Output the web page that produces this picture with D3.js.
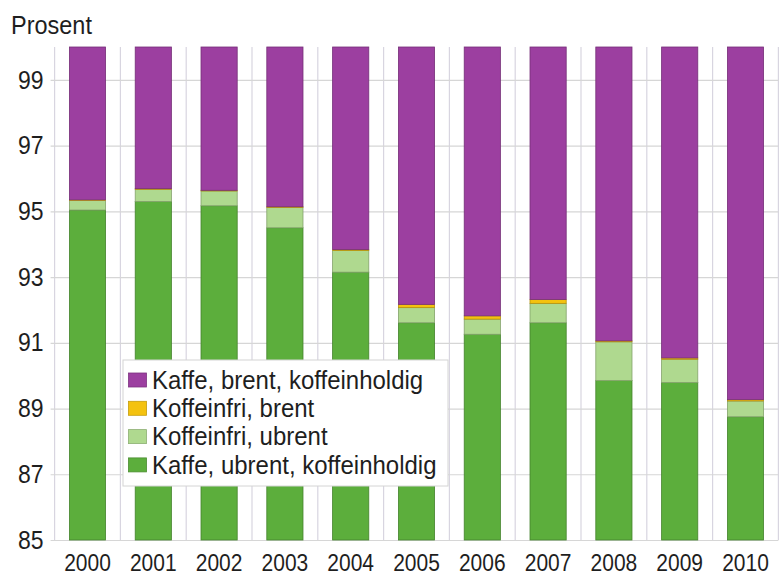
<!DOCTYPE html>
<html>
<head>
<meta charset="utf-8">
<script src="https://cdn.jsdelivr.net/npm/d3@7"></script>
<style>
  html, body { margin: 0; padding: 0; background: #fff; }
  svg { display: block; font-family: "Liberation Sans", Arial, sans-serif; }
</style>
</head>
<body>
<svg id="chart" width="782" height="576"></svg>
<script>
// Coffee consumption shares by type, 2000–2010 (per cent, axis cut at 85)
const years = ["2000","2001","2002","2003","2004","2005","2006","2007","2008","2009","2010"];
const ubrentKoffein  = [95.04, 95.30, 95.17, 94.50, 93.15, 91.61, 91.26, 91.61, 89.85, 89.79, 88.75];
const koffeinfriUbrent = [0.29, 0.37, 0.45, 0.62, 0.66, 0.46, 0.46, 0.59, 1.18, 0.71, 0.48];
const koffeinfriBrent  = [0.02, 0.02, 0.02, 0.02, 0.03, 0.10, 0.10, 0.12, 0.03, 0.04, 0.04];
const brentKoffein     = [4.65, 4.31, 4.36, 4.86, 6.16, 7.83, 8.18, 7.68, 8.94, 9.46, 10.73];
const yTicks = [85, 87, 89, 91, 93, 95, 97, 99];

const seriesKeys = ["ubrent", "friUbrent", "friBrent", "brent"];
const seriesLabels = {
  brent: "Kaffe, brent, koffeinholdig",
  friBrent: "Koffeinfri, brent",
  friUbrent: "Koffeinfri, ubrent",
  ubrent: "Kaffe, ubrent, koffeinholdig"
};
const colors = {
  ubrent: "#5cae3c",
  friUbrent: "#afd98f",
  friBrent: "#f4c20f",
  brent: "#9c3fa0"
};

const rows = years.map((yr, i) => ({
  year: yr,
  ubrent: ubrentKoffein[i],
  friUbrent: koffeinfriUbrent[i],
  friBrent: koffeinfriBrent[i],
  brent: brentKoffein[i]
}));

const svg = d3.select("#chart");
const plotL = 54.6, plotR = 778.4, plotT = 47, plotB = 540;
const textColor = "#1e1e1e";

// glyphs are drawn slightly taller than the regular face
function stretch(sel, k = 1.1) {
  sel.each(function () {
    const b = this.getBBox();
    const cy = b.y + b.height / 2;
    d3.select(this).attr("transform",
      `translate(0,${cy}) scale(1,${k}) translate(0,${-cy})`);
  });
}

const x = d3.scaleBand().domain(years).range([plotL, plotR])
  .paddingInner(0.45).paddingOuter(0.225);
const y = d3.scaleLinear().domain([85, 100]).range([plotB, plotT]).clamp(true);

// vertical separators between years
const grid = svg.append("g");
d3.range(years.length + 1).forEach(i => {
  const gx = plotL + i * x.step();
  grid.append("line")
    .attr("x1", gx).attr("x2", gx)
    .attr("y1", plotT).attr("y2", plotB)
    .attr("stroke", "#d8d5e0").attr("stroke-width", 1.2);
});

// horizontal gridlines via the axis
const yAxis = svg.append("g")
  .attr("transform", `translate(${plotL},0)`)
  .call(d3.axisLeft(y).tickValues(yTicks).tickSize(-(plotR - plotL)).tickPadding(11).tickFormat(d3.format("d")));
yAxis.select(".domain").remove();
yAxis.selectAll(".tick line").attr("stroke", "#d6d6d6").attr("stroke-width", 1.2).attr("x1", -4);
yAxis.selectAll(".tick text")
  .attr("font-size", 23).attr("fill", textColor)
  .attr("font-family", "'Liberation Sans', Arial, sans-serif")
  .call(stretch);

// stacked bars
const stacked = d3.stack().keys(seriesKeys)(rows);
const barG = svg.append("g");
stacked.forEach(layer => {
  const c = colors[layer.key];
  barG.append("g").selectAll("rect")
    .data(layer)
    .join("rect")
    .attr("x", d => x(d.data.year))
    .attr("width", x.bandwidth())
    .attr("y", d => y(d[1]))
    .attr("height", d => Math.max(0, y(d[0]) - y(d[1])))
    .attr("fill", c)
    .attr("stroke", d3.color(c).darker(0.8))
    .attr("stroke-width", 0.8);
});

// x axis labels
const xAxis = svg.append("g")
  .attr("transform", `translate(0,${plotB})`)
  .call(d3.axisBottom(x).tickSize(0).tickPadding(15));
xAxis.select(".domain").remove();
xAxis.selectAll(".tick text")
  .attr("font-size", 21).attr("fill", textColor)
  .attr("font-family", "'Liberation Sans', Arial, sans-serif")
  .call(stretch);

// unit label
svg.append("text")
  .attr("x", 11).attr("y", 33)
  .attr("font-size", 23.5).attr("fill", textColor)
  .text("Prosent")
  .call(stretch);

// legend
const legendOrder = ["brent", "friBrent", "friUbrent", "ubrent"];
const lg = svg.append("g");
lg.append("rect")
  .attr("x", 123).attr("y", 360).attr("width", 325).attr("height", 126)
  .attr("fill", "#fff").attr("stroke", "#d4d4d4").attr("stroke-width", 1);
legendOrder.forEach((k, i) => {
  const cy = 380 + i * 28.3;
  lg.append("rect")
    .attr("x", 128.5).attr("y", cy - 7).attr("width", 18).attr("height", 14)
    .attr("fill", colors[k])
    .attr("stroke", d3.color(colors[k]).darker(0.6)).attr("stroke-width", 0.8);
  lg.append("text")
    .attr("x", 152).attr("y", cy + 8)
    .attr("font-size", 24).attr("fill", textColor)
    .text(seriesLabels[k])
    .call(stretch);
});
</script>
</body>
</html>
